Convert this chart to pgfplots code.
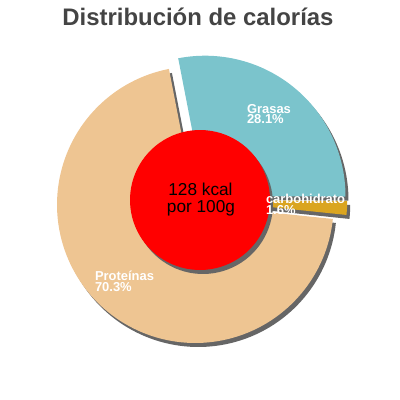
\documentclass[border=0pt]{standalone}
\usepackage{pgfplots}
\pgfplotsset{compat=1.18}
\usepackage{fontspec}
\setmainfont{Liberation Sans}

\definecolor{cprot}{HTML}{EEC592}
\definecolor{cgras}{HTML}{7BC4CC}
\definecolor{ccarb}{HTML}{DAA520}
\definecolor{cshadow}{HTML}{666666}
\definecolor{ctitle}{HTML}{444444}

% shares of the calories (%)
\def\pgras{28.1}
\def\pcarb{1.6}
\def\pprot{70.3}
\def\startang{101}
\pgfmathsetmacro\agras{\startang-3.6*\pgras}
\pgfmathsetmacro\acarb{\agras-3.6*\pcarb}
\pgfmathsetmacro\aprot{\acarb-3.6*\pprot}

\begin{document}
\begin{tikzpicture}[
    lbl/.style={anchor=base west, white, inner sep=0pt, outer sep=0pt,
                font=\fontsize{13}{11}\selectfont\bfseries},
  ]
\begin{axis}[
    scale only axis,
    width=400bp, height=400bp,
    xmin=0, xmax=400, ymin=0, ymax=400,
    hide axis,
    clip=false,
    every node/.style={inner sep=0pt, outer sep=0pt},
  ]
  \path (axis cs:0,0) rectangle (axis cs:400,400);

  % shadows
  \addplot[fill=cshadow, draw=none, domain=\aprot:\acarb, samples=120]
    ({198.3+138.3*cos(x)}, {191.3+138.3*sin(x)}) -- (axis cs:198.3,191.3) -- cycle;
  \addplot[fill=cshadow, draw=none, domain=\agras:\startang, samples=60]
    ({208+140.5*cos(x)}, {199.8+140.5*sin(x)}) -- (axis cs:208,199.8) -- cycle;
  \addplot[fill=cshadow, draw=none, domain=\acarb:\agras, samples=10]
    ({210.2+140*cos(x)}, {195.5+140*sin(x)}) -- (axis cs:210.2,195.5) -- cycle;

  % Proteinas
  \addplot[fill=cprot, draw=none, domain=\aprot:\acarb, samples=120]
    ({195.3+138.3*cos(x)}, {195.3+138.3*sin(x)}) -- (axis cs:195.3,195.3) -- cycle;
  % Grasas
  \addplot[fill=cgras, draw=none, domain=\agras:\startang, samples=60]
    ({205+140.5*cos(x)}, {203.8+140.5*sin(x)}) -- (axis cs:205,203.8) -- cycle;
  % carbohidratos
  \addplot[fill=ccarb, draw=none, domain=\acarb:\agras, samples=10]
    ({207.2+140*cos(x)}, {199.5+140*sin(x)}) -- (axis cs:207.2,199.5) -- cycle;

  % centre disc
  \addplot[fill=cshadow, draw=none, domain=0:360, samples=90]
    ({203+70*cos(x)}, {196+70*sin(x)}) -- cycle;
  \addplot[fill=red, draw=none, domain=0:360, samples=90]
    ({200+70*cos(x)}, {200+70*sin(x)}) -- cycle;

  \node[anchor=base, font=\fontsize{17.3}{17}\selectfont] at (axis cs:200.5,204.3) {128 kcal};
  \node[anchor=base, font=\fontsize{17.3}{17}\selectfont] at (axis cs:201,187.6) {por 100g};

  \node[lbl] at (axis cs:247,286.7) {Grasas};
  \node[lbl] at (axis cs:247,276.3) {28.1\%};
  \node[lbl] at (axis cs:266,197) {carbohidrato};
  \node[lbl] at (axis cs:266,186) {1.6\%};
  \node[lbl] at (axis cs:95,119.7) {Proteínas};
  \node[lbl] at (axis cs:95,109) {70.3\%};

  \node[anchor=base, text=ctitle, font=\fontsize{24}{28}\selectfont\bfseries] at (axis cs:198,375) {Distribución de calorías};
\end{axis}
\end{tikzpicture}
\end{document}
